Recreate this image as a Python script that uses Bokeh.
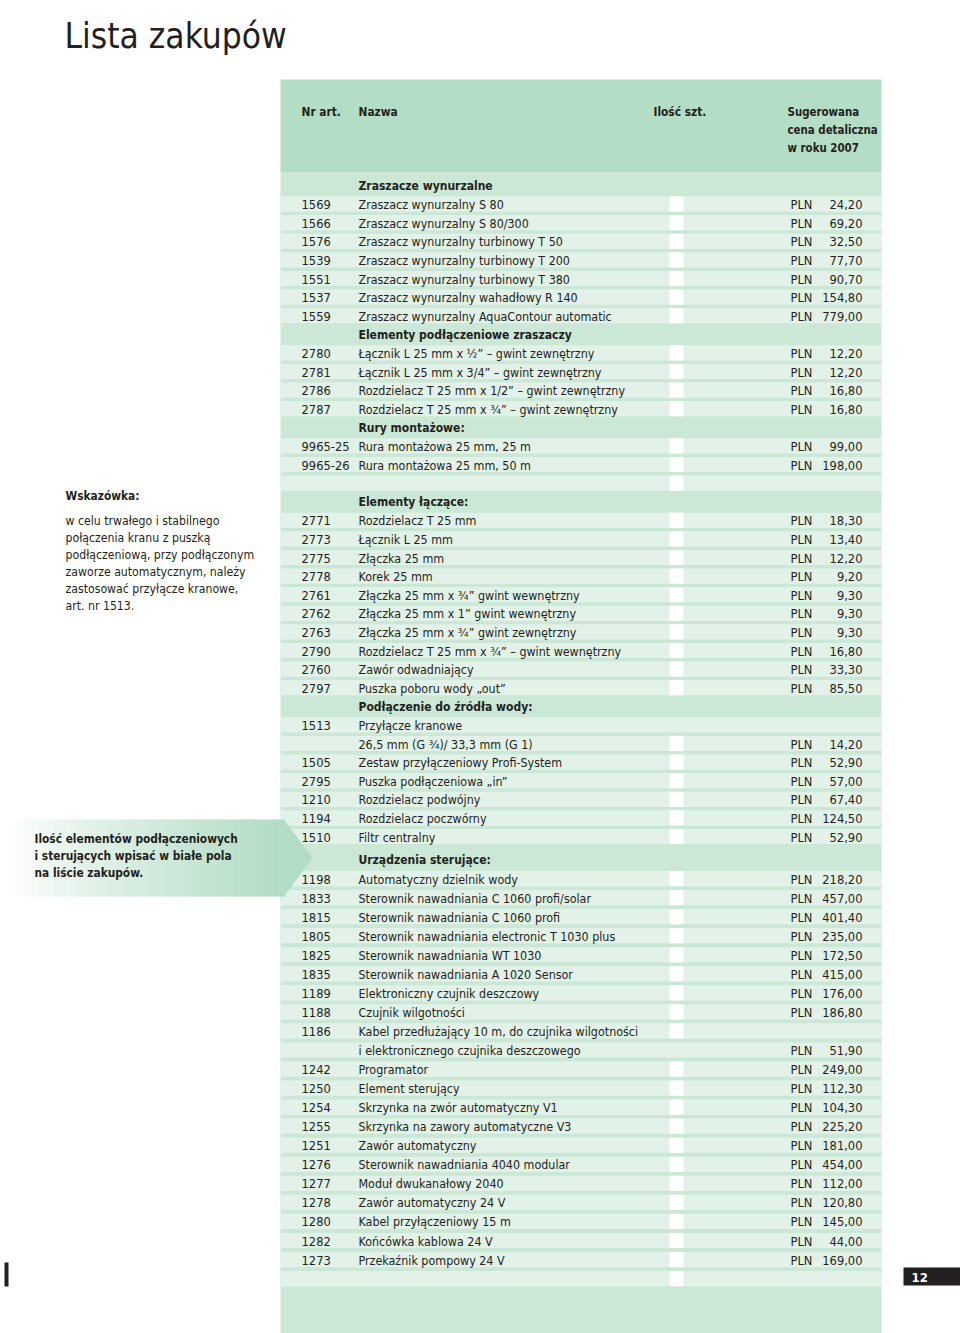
import numpy as np
from bokeh.plotting import figure
from bokeh.models import ColumnDataSource, Range1d
from bokeh.core.properties import value
from bokeh.embed import file_html
from bokeh.resources import INLINE

# ---------------- data ----------------
page_title = "Lista zakupów"
header_labels = ["Nr art.", "Nazwa", "Ilość szt."]
header_price_lines = ["Sugerowana", "cena detaliczna", "w roku 2007"]

# S = section heading, I = item with quantity box, N = item without box, B = blank row with box
row_kind = ["S", "I", "I", "I", "I", "I", "I", "I",
            "S", "I", "I", "I", "I",
            "S", "I", "I", "B",
            "S", "I", "I", "I", "I", "I", "I", "I", "I", "I", "I",
            "S", "N", "I", "I", "I", "I", "I", "I",
            "S", "I", "I", "I", "I", "I", "I", "I", "I", "I", "N",
            "I", "I", "I", "I", "I", "I", "I", "I", "I", "I", "I", "B"]
art_nr = ["", "1569", "1566", "1576", "1539", "1551", "1537", "1559",
          "", "2780", "2781", "2786", "2787",
          "", "9965-25", "9965-26", "",
          "", "2771", "2773", "2775", "2778", "2761", "2762", "2763", "2790", "2760", "2797",
          "", "1513", "", "1505", "2795", "1210", "1194", "1510",
          "", "1198", "1833", "1815", "1805", "1825", "1835", "1189", "1188", "1186", "",
          "1242", "1250", "1254", "1255", "1251", "1276", "1277", "1278", "1280", "1282", "1273", ""]
item_name = ["Zraszacze wynurzalne",
             "Zraszacz wynurzalny S 80",
             "Zraszacz wynurzalny S 80/300",
             "Zraszacz wynurzalny turbinowy T 50",
             "Zraszacz wynurzalny turbinowy T 200",
             "Zraszacz wynurzalny turbinowy T 380",
             "Zraszacz wynurzalny wahadłowy R 140",
             "Zraszacz wynurzalny AquaContour automatic",
             "Elementy podłączeniowe  zraszaczy",
             "Łącznik L 25 mm x ½” – gwint zewnętrzny",
             "Łącznik L 25 mm x 3/4” – gwint zewnętrzny",
             "Rozdzielacz T 25 mm x 1/2” – gwint zewnętrzny",
             "Rozdzielacz T 25 mm x ¾” – gwint zewnętrzny",
             "Rury montażowe:",
             "Rura montażowa 25 mm, 25 m",
             "Rura montażowa 25 mm, 50 m",
             "",
             "Elementy łączące:",
             "Rozdzielacz T 25 mm",
             "Łącznik L 25 mm",
             "Złączka 25 mm",
             "Korek 25 mm",
             "Złączka 25 mm x ¾” gwint wewnętrzny",
             "Złączka 25 mm x 1” gwint wewnętrzny",
             "Złączka 25 mm x ¾” gwint zewnętrzny",
             "Rozdzielacz T 25 mm x ¾” – gwint wewnętrzny",
             "Zawór odwadniający",
             "Puszka poboru wody „out”",
             "Podłączenie do źródła wody:",
             "Przyłącze kranowe",
             "26,5 mm (G ¾)/ 33,3 mm (G 1)",
             "Zestaw przyłączeniowy Profi-System",
             "Puszka podłączeniowa „in”",
             "Rozdzielacz podwójny",
             "Rozdzielacz poczwórny",
             "Filtr centralny",
             "Urządzenia sterujące:",
             "Automatyczny dzielnik wody",
             "Sterownik nawadniania C 1060 profi/solar",
             "Sterownik nawadniania C 1060 profi",
             "Sterownik nawadniania electronic  T 1030 plus",
             "Sterownik nawadniania WT 1030",
             "Sterownik nawadniania A 1020 Sensor",
             "Elektroniczny czujnik deszczowy",
             "Czujnik wilgotności",
             "Kabel przedłużający 10 m, do czujnika wilgotności",
             "i elektronicznego czujnika deszczowego",
             "Programator",
             "Element sterujący",
             "Skrzynka na zwór automatyczny V1",
             "Skrzynka na zawory automatyczne V3",
             "Zawór automatyczny",
             "Sterownik nawadniania 4040 modular",
             "Moduł dwukanałowy 2040",
             "Zawór automatyczny 24 V",
             "Kabel przyłączeniowy 15 m",
             "Końcówka kablowa 24 V",
             "Przekaźnik pompowy 24 V",
             ""]
price_pln = [None, 24.20, 69.20, 32.50, 77.70, 90.70, 154.80, 779.00,
             None, 12.20, 12.20, 16.80, 16.80,
             None, 99.00, 198.00, None,
             None, 18.30, 13.40, 12.20, 9.20, 9.30, 9.30, 9.30, 16.80, 33.30, 85.50,
             None, None, 14.20, 52.90, 57.00, 67.40, 124.50, 52.90,
             None, 218.20, 457.00, 401.40, 235.00, 172.50, 415.00, 176.00, 186.80, None, 51.90,
             249.00, 112.30, 104.30, 225.20, 181.00, 454.00, 112.00, 120.80, 145.00, 44.00, 169.00, None]
qty_box_override = {46: False}  # continuation row without box

note_title = "Wskazówka:"
note_lines = ["w celu trwałego i stabilnego",
              "połączenia kranu z puszką",
              "podłączeniową, przy podłączonym",
              "zaworze automatycznym, należy",
              "zastosować przyłącze kranowe,",
              "art. nr 1513."]
callout_lines = ["Ilość elementów podłączeniowych",
                 "i sterujących wpisać w białe pola",
                 "na liście zakupów."]
page_number = "12"

# ---------------- layout / style ----------------
FONT = "DejaVu Sans Condensed"
TXT = "#231f20"
HEADER_BG = "#b3ddc4"
DARK_BG = "#cbe8d6"
LIGHT_BG = "#e2f2e8"
PANEL_L, PANEL_R = 280, 881
NAME_SZ = "12.4px"
NUM_SZ = "12.8px"
BOLD_SZ = "12px"

def row_y(i):
    return 185 + i * 18.6 if i <= 35 else 859 + (i - 36) * 19.05

n = len(row_kind)
ys = [row_y(i) for i in range(n)]

p = figure(width=960, height=1333, x_range=Range1d(0, 960), y_range=Range1d(1333, 0),
           output_backend="svg", toolbar_location=None, min_border=0,
           x_axis_location=None, y_axis_location=None)
p.grid.visible = False
p.outline_line_color = None
p.background_fill_color = "white"
p.border_fill_color = "white"

# panel backgrounds
p.quad(left=[PANEL_L], right=[PANEL_R], top=[79], bottom=[172], fill_color=HEADER_BG, line_color=None)
p.quad(left=[PANEL_L], right=[PANEL_R], top=[172], bottom=[1340], fill_color=DARK_BG, line_color=None)

light_idx = [i for i in range(n) if row_kind[i] != "S"]
p.rect(x=[(PANEL_L + PANEL_R) / 2] * len(light_idx), y=[ys[i] for i in light_idx],
       width=PANEL_R - PANEL_L, height=15.2, fill_color=LIGHT_BG, line_color=None)

box_idx = [i for i in range(n) if row_kind[i] in ("I", "B") and qty_box_override.get(i, True)]
p.rect(x=[676] * len(box_idx), y=[ys[i] for i in box_idx], width=14, height=15.2,
       fill_color="white", line_color=None)

# callout gradient arrow
steps = 150
gx = np.linspace(12, 284, steps + 1)
c0 = np.array([255, 255, 255])
c1 = np.array([178, 220, 196])
tt = np.linspace(0, 1, steps) ** 0.8
cols = ["#%02x%02x%02x" % tuple((c0 + (c1 - c0) * t).astype(int)) for t in tt]
p.quad(left=gx[:-1], right=gx[1:] + 0.6, top=[819] * steps, bottom=[896] * steps,
       fill_color=cols, line_color=None)
p.patch(x=[283.5, 312, 283.5], y=[819, 857.5, 896], fill_color="#b2dcc4", line_color=None)

# header texts
hdr_x = [301, 358, 653]
p.text(x=hdr_x, y=[111] * 3, text=header_labels, text_font=value(FONT), text_font_size="11.8px",
       text_font_style="bold", text_color=TXT, text_baseline="middle")
p.text(x=[787] * 3, y=[111, 129, 147], text=header_price_lines, text_font=value(FONT),
       text_font_size="11.4px", text_font_style="bold", text_color=TXT, text_baseline="middle")

# row texts
sec = [i for i in range(n) if row_kind[i] == "S"]
p.text(x=[358] * len(sec), y=[ys[i] + 0.5 for i in sec], text=[item_name[i] for i in sec],
       text_font=value(FONT), text_font_size=BOLD_SZ, text_font_style="bold",
       text_color=TXT, text_baseline="middle")
itm = [i for i in range(n) if row_kind[i] != "S"]
src = ColumnDataSource(dict(y=[ys[i] + 0.5 for i in itm],
                            art=[art_nr[i] for i in itm],
                            name=[item_name[i] for i in itm]))
p.text(x=301, y="y", text="art", source=src, text_font=value(FONT), text_font_size=NUM_SZ,
       text_color=TXT, text_baseline="middle")
p.text(x=358, y="y", text="name", source=src, text_font=value(FONT), text_font_size=NAME_SZ,
       text_color=TXT, text_baseline="middle")

pr = [i for i in range(n) if price_pln[i] is not None]
p.text(x=[790] * len(pr), y=[ys[i] + 0.5 for i in pr], text=["PLN"] * len(pr),
       text_font=value(FONT), text_font_size=NUM_SZ, text_color=TXT, text_baseline="middle")
p.text(x=[862] * len(pr), y=[ys[i] + 0.5 for i in pr],
       text=[f"{price_pln[i]:.2f}".replace(".", ",") for i in pr],
       text_font=value(FONT), text_font_size=NUM_SZ, text_color=TXT,
       text_baseline="middle", text_align="right")

# title
p.text(x=[64], y=[35], text=[page_title], text_font=value(FONT), text_font_size="35px",
       text_color=TXT, text_baseline="alphabetic")

# note
p.text(x=[65], y=[495], text=[note_title], text_font=value(FONT), text_font_size="11.8px",
       text_font_style="bold", text_color=TXT, text_baseline="middle")
p.text(x=[65] * len(note_lines), y=[520 + 17 * k for k in range(len(note_lines))], text=note_lines,
       text_font=value(FONT), text_font_size="12.2px", text_color=TXT, text_baseline="middle")

# callout text
p.text(x=[34] * 3, y=[838, 855, 872], text=callout_lines, text_font=value(FONT),
       text_font_size="11.8px", text_font_style="bold", text_color=TXT, text_baseline="middle")

# page number
p.quad(left=[903], right=[960], top=[1267], bottom=[1285], fill_color=TXT, line_color=None)
p.text(x=[911], y=[1276.5], text=[page_number], text_font=value(FONT), text_font_size="13px",
       text_font_style="bold", text_color="white", text_baseline="middle")
p.quad(left=[4], right=[8], top=[1262], bottom=[1286], fill_color=TXT, line_color=None)

open("out.html", "w").write(file_html(p, INLINE))
